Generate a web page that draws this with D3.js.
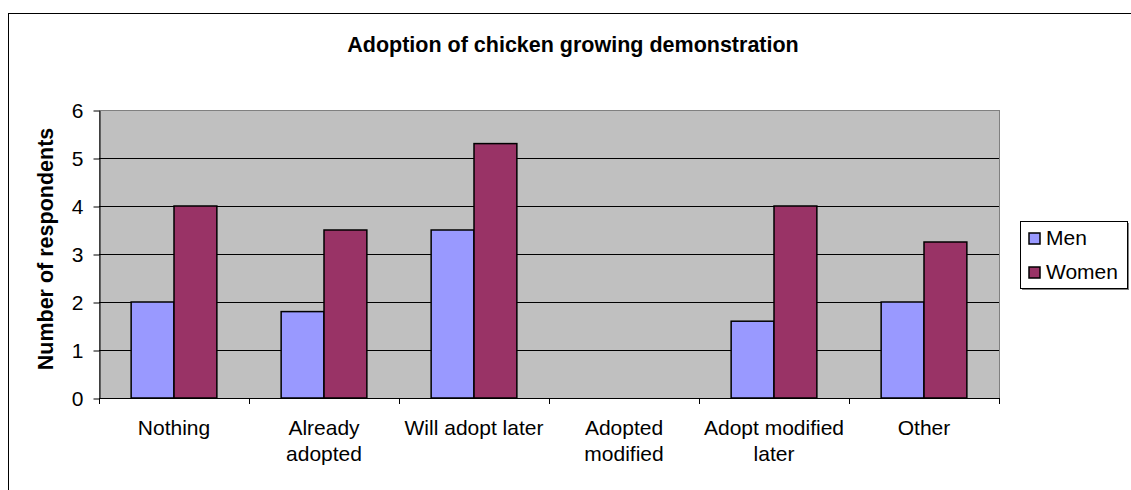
<!DOCTYPE html>
<html>
<head>
<meta charset="utf-8">
<script src="https://cdn.jsdelivr.net/npm/d3@7"></script>
<style>
  body { margin: 0; background: #fff; }
  text { font-family: "Liberation Sans", Arial, sans-serif; fill: #000; }
</style>
</head>
<body>
<script>
var categories = ['Nothing', 'Already adopted', 'Will adopt later', 'Adopted modified', 'Adopt modified later', 'Other'];
var seriesNames = ['Men', 'Women'];
var menValues = [2, 1.8, 3.5, 0, 1.6, 2];
var womenValues = [4, 3.5, 5.3, 0, 4, 3.25];
var yTicks = [0, 1, 2, 3, 4, 5, 6];
var colors = ['#9999FF', '#993366'];

var svg = d3.select('body').append('svg')
    .attr('width', 1131)
    .attr('height', 490);

// chart border (runs off the picture on right and bottom)
svg.append('rect')
    .attr('x', 8.5)
    .attr('y', 13.5)
    .attr('width', 1300)
    .attr('height', 600)
    .attr('fill', '#fff')
    .attr('stroke', '#000');

var plotLeft = 99, plotTop = 110, plotRight = 999, plotBottom = 398;

var x = d3.scaleBand()
    .domain(categories)
    .range([plotLeft, plotRight])
    .padding(0);

var bw = x.bandwidth() / 3.5;
var x1 = d3.scaleBand()
    .domain(seriesNames)
    .range([(x.bandwidth() - 2 * bw) / 2, (x.bandwidth() + 2 * bw) / 2]);

var y = d3.scaleLinear()
    .domain([0, 6])
    .range([plotBottom, plotTop]);

// plot area
svg.append('rect')
    .attr('x', plotLeft + 0.5)
    .attr('y', plotTop + 0.5)
    .attr('width', plotRight - plotLeft)
    .attr('height', plotBottom - plotTop)
    .attr('fill', '#C0C0C0')
    .attr('stroke', '#808080');

// gridlines
svg.selectAll('.grid')
    .data(yTicks.filter(function (d) { return d > 0 && d < 6; }))
    .enter().append('line')
    .attr('x1', plotLeft)
    .attr('x2', plotRight)
    .attr('y1', function (d) { return Math.round(y(d)) + 0.5; })
    .attr('y2', function (d) { return Math.round(y(d)) + 0.5; })
    .attr('stroke', '#000');

// bars
var rows = categories.map(function (c, i) {
    return { cat: c, values: [menValues[i], womenValues[i]] };
});

var groups = svg.selectAll('.group')
    .data(rows)
    .enter().append('g')
    .attr('transform', function (d) { return 'translate(' + x(d.cat) + ',0)'; });

groups.selectAll('rect')
    .data(function (d) {
        return d.values.map(function (v, j) { return { name: seriesNames[j], v: v, j: j }; })
            .filter(function (e) { return e.v > 0; });
    })
    .enter().append('rect')
    .attr('x', function (d) { return x1(d.name); })
    .attr('y', function (d) { return y(d.v); })
    .attr('width', x1.bandwidth())
    .attr('height', function (d) { return plotBottom - y(d.v); })
    .attr('fill', function (d) { return colors[d.j]; })
    .attr('stroke', '#000')
    .attr('stroke-width', 1.5);

// y axis
var yAxis = svg.append('g')
    .attr('transform', 'translate(' + (plotLeft + 0.5) + ',0.5)')
    .call(d3.axisLeft(y).tickValues(yTicks).tickFormat(d3.format('d'))
        .tickSize(6).tickSizeOuter(0).tickPadding(10));
yAxis.select('.domain').attr('stroke', '#000');
yAxis.selectAll('text')
    .style('font-family', '"Liberation Sans", Arial, sans-serif')
    .style('font-size', '21px');

// x axis line and ticks
svg.append('line')
    .attr('x1', plotLeft)
    .attr('x2', plotRight + 1)
    .attr('y1', plotBottom + 0.5)
    .attr('y2', plotBottom + 0.5)
    .attr('stroke', '#000');

var boundaries = categories.map(function (c) { return x(c); }).concat([plotRight]);
svg.selectAll('.xtick')
    .data(boundaries)
    .enter().append('line')
    .attr('x1', function (d) { return d + 0.5; })
    .attr('x2', function (d) { return d + 0.5; })
    .attr('y1', plotBottom)
    .attr('y2', plotBottom + 6)
    .attr('stroke', '#000');

// category labels, wrapped
svg.selectAll('.xlabel')
    .data(categories)
    .enter().append('text')
    .attr('text-anchor', 'middle')
    .style('font-size', '21px')
    .each(function (d) {
        var t = d3.select(this);
        var cx = x(d) + x.bandwidth() / 2;
        var words = d.split(' ');
        var lines = [];
        var line = [];
        words.forEach(function (w) {
            line.push(w);
            t.text(line.join(' '));
            if (t.node().getComputedTextLength() > 146 && line.length > 1) {
                line.pop();
                lines.push(line.join(' '));
                line = [w];
            }
        });
        lines.push(line.join(' '));
        t.text(null);
        lines.forEach(function (l, k) {
            t.append('tspan')
                .attr('x', cx)
                .attr('y', 435 + k * 26)
                .text(l);
        });
    });

// title
svg.append('text')
    .attr('x', 573)
    .attr('y', 52)
    .attr('text-anchor', 'middle')
    .style('font-size', '21.5px')
    .style('font-weight', 'bold')
    .text('Adoption of chicken growing demonstration');

// y axis title
svg.append('text')
    .attr('transform', 'translate(53,' + ((plotTop + plotBottom) / 2 - 5) + ') rotate(-90)')
    .attr('text-anchor', 'middle')
    .style('font-size', '21.5px')
    .style('font-weight', 'bold')
    .text('Number of respondents');

// legend
var legend = svg.append('g');
legend.append('rect')
    .attr('x', 1022)
    .attr('y', 223)
    .attr('width', 107)
    .attr('height', 67)
    .attr('fill', '#808080');
legend.append('rect')
    .attr('x', 1020.5)
    .attr('y', 221.5)
    .attr('width', 107)
    .attr('height', 67)
    .attr('fill', '#fff')
    .attr('stroke', '#000');

var items = legend.selectAll('.item')
    .data(seriesNames)
    .enter().append('g')
    .attr('transform', function (d, i) { return 'translate(0,' + (i * 34) + ')'; });

items.append('rect')
    .attr('x', 1029)
    .attr('y', 233)
    .attr('width', 11)
    .attr('height', 11)
    .attr('fill', function (d, i) { return colors[i]; })
    .attr('stroke', '#000')
    .attr('stroke-width', 1.5);

items.append('text')
    .attr('x', 1046)
    .attr('y', 245)
    .style('font-size', '21px')
    .text(function (d) { return d; });
</script>
</body>
</html>
